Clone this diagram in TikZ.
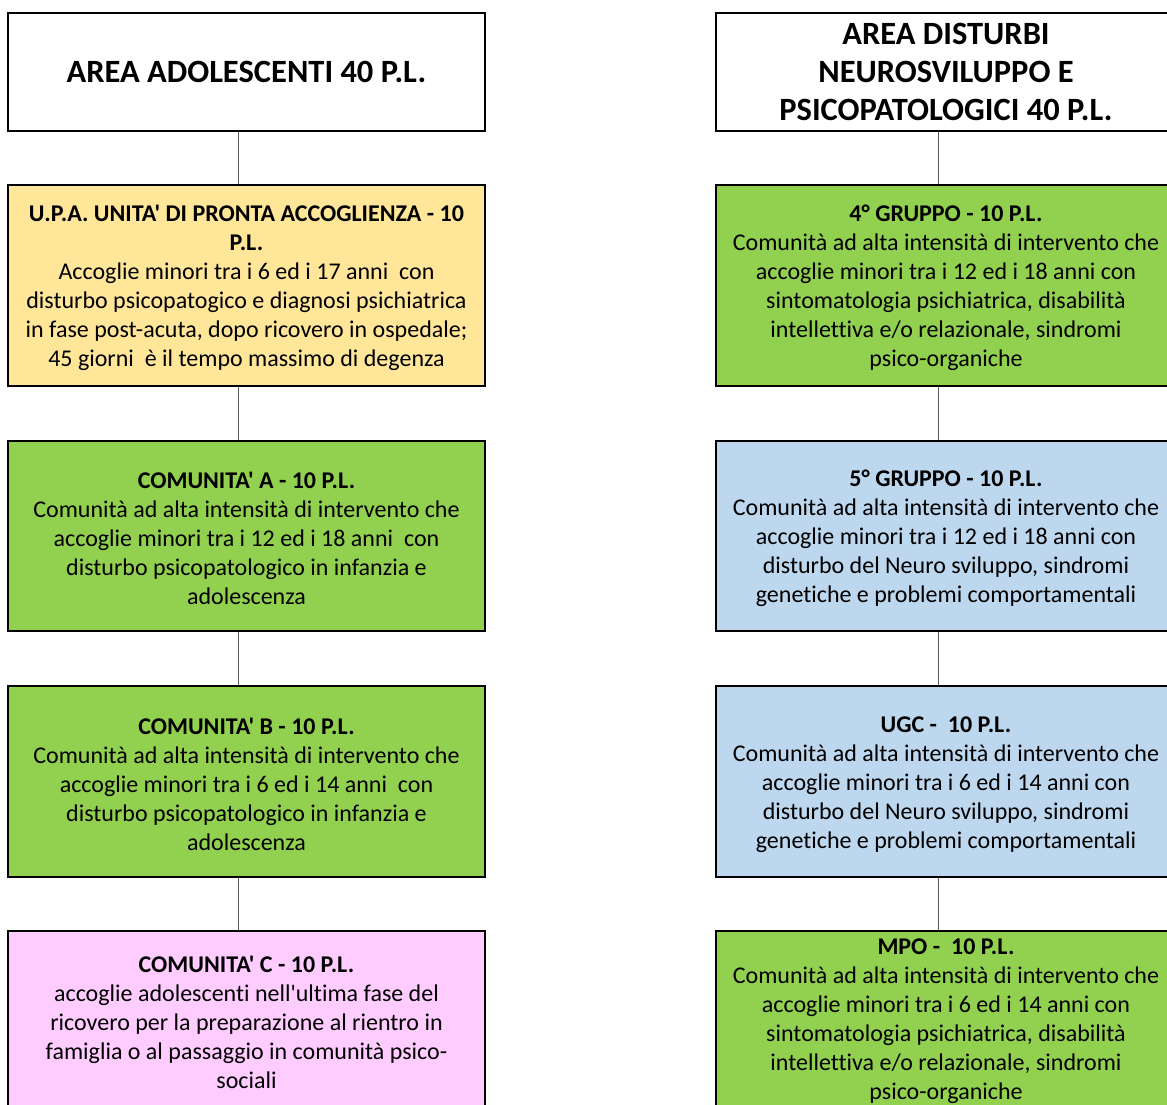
\documentclass[tikz,border=0pt]{standalone}
\usepackage{fontspec}
\setmainfont{Carlito}[Ligatures={TeXOff,NoCommon}]
\definecolor{cyellow}{HTML}{FFE699}
\definecolor{cgreen}{HTML}{92D050}
\definecolor{cblue}{HTML}{BDD7EE}
\definecolor{cpink}{HTML}{FFCCFF}
\definecolor{cline}{HTML}{595959}
\newcommand\tstrut{\rule{0pt}{22pt}}
\begin{document}
\begin{tikzpicture}[x=1pt,y=-1pt,
  box/.style={draw=black,line width=1.5pt,inner sep=0pt,align=center,
    font=\fontsize{24}{29}\selectfont},
  lbox/.style={box,minimum width=477pt},
  rbox/.style={box,minimum width=460pt},
  titlebox/.style={font=\fontsize{32.5}{38}\selectfont\bfseries},
  conn/.style={draw=cline,line width=1pt}]
\useasboundingbox (0,0) rectangle (1167,1104);
\clip (0,0) rectangle (1167,1104);
\coordinate (xl) at (238,0);
\coordinate (xr) at (938,0);
% left column
\node[lbox,titlebox,minimum height=118pt,fill=white] (L1) at (246.5,72) {AREA ADOLESCENTI 40 P.L.};
\node[lbox,minimum height=201pt,fill=cyellow] (L2) at (246.5,285.5) {\tstrut\textbf{U.P.A. UNITA' DI PRONTA ACCOGLIENZA - 10}\\\textbf{P.L.}\\Accoglie minori tra i 6 ed i 17 anni\ \ con\\disturbo psicopatogico e diagnosi psichiatrica\\in fase post-acuta, dopo ricovero in ospedale;\\45 giorni\ \ è il tempo massimo di degenza};
\node[lbox,minimum height=190pt,fill=cgreen] (L3) at (246.5,536) {\tstrut\textbf{COMUNITA' A - 10 P.L.}\\Comunità ad alta intensità di intervento che\\accoglie minori tra i 12 ed i 18 anni\ \ con\\disturbo psicopatologico in infanzia e\\adolescenza};
\node[lbox,minimum height=191pt,fill=cgreen] (L4) at (246.5,781.5) {\tstrut\textbf{COMUNITA' B - 10 P.L.}\\Comunità ad alta intensità di intervento che\\accoglie minori tra i 6 ed i 14 anni\ \ con\\disturbo psicopatologico in infanzia e\\adolescenza};
\node[lbox,minimum height=178pt,fill=cpink] (L5) at (246.5,1020) {\tstrut\textbf{COMUNITA' C - 10 P.L.}\\accoglie adolescenti nell'ultima fase del\\ricovero per la preparazione al rientro in\\famiglia o al passaggio in comunità psico-\\sociali};
% right column
\node[rbox,titlebox,minimum height=118pt,fill=white] (R1) at (946,72) {AREA DISTURBI\\NEUROSVILUPPO E\\PSICOPATOLOGICI 40 P.L.};
\node[rbox,minimum height=201pt,fill=cgreen] (R2) at (946,285.5) {\tstrut\textbf{4° GRUPPO - 10 P.L.}\\Comunità ad alta intensità di intervento che\\accoglie minori tra i 12 ed i 18 anni con\\sintomatologia psichiatrica, disabilità\\intellettiva e/o relazionale, sindromi\\psico-organiche};
\node[rbox,minimum height=190pt,fill=cblue] (R3) at (946,536) {\tstrut\textbf{5° GRUPPO - 10 P.L.}\\Comunità ad alta intensità di intervento che\\accoglie minori tra i 12 ed i 18 anni con\\disturbo del Neuro sviluppo, sindromi\\genetiche e problemi comportamentali};
\node[rbox,minimum height=191pt,fill=cblue] (R4) at (946,781.5) {\tstrut\textbf{UGC -\ \ 10 P.L.}\\Comunità ad alta intensità di intervento che\\accoglie minori tra i 6 ed i 14 anni con\\disturbo del Neuro sviluppo, sindromi\\genetiche e problemi comportamentali};
\node[rbox,minimum height=175pt,fill=cgreen] (R5) at (946,1018.5) {\tstrut\textbf{MPO -\ \ 10 P.L.}\\Comunità ad alta intensità di intervento che\\accoglie minori tra i 6 ed i 14 anni con\\sintomatologia psichiatrica, disabilità\\intellettiva e/o relazionale, sindromi\\psico-organiche};
% connectors
\draw[conn] (L1.south -| xl) -- (L2.north -| xl);
\draw[conn] (L2.south -| xl) -- (L3.north -| xl);
\draw[conn] (L3.south -| xl) -- (L4.north -| xl);
\draw[conn] (L4.south -| xl) -- (L5.north -| xl);
\draw[conn] (R1.south -| xr) -- (R2.north -| xr);
\draw[conn] (R2.south -| xr) -- (R3.north -| xr);
\draw[conn] (R3.south -| xr) -- (R4.north -| xr);
\draw[conn] (R4.south -| xr) -- (R5.north -| xr);
\end{tikzpicture}
\end{document}
